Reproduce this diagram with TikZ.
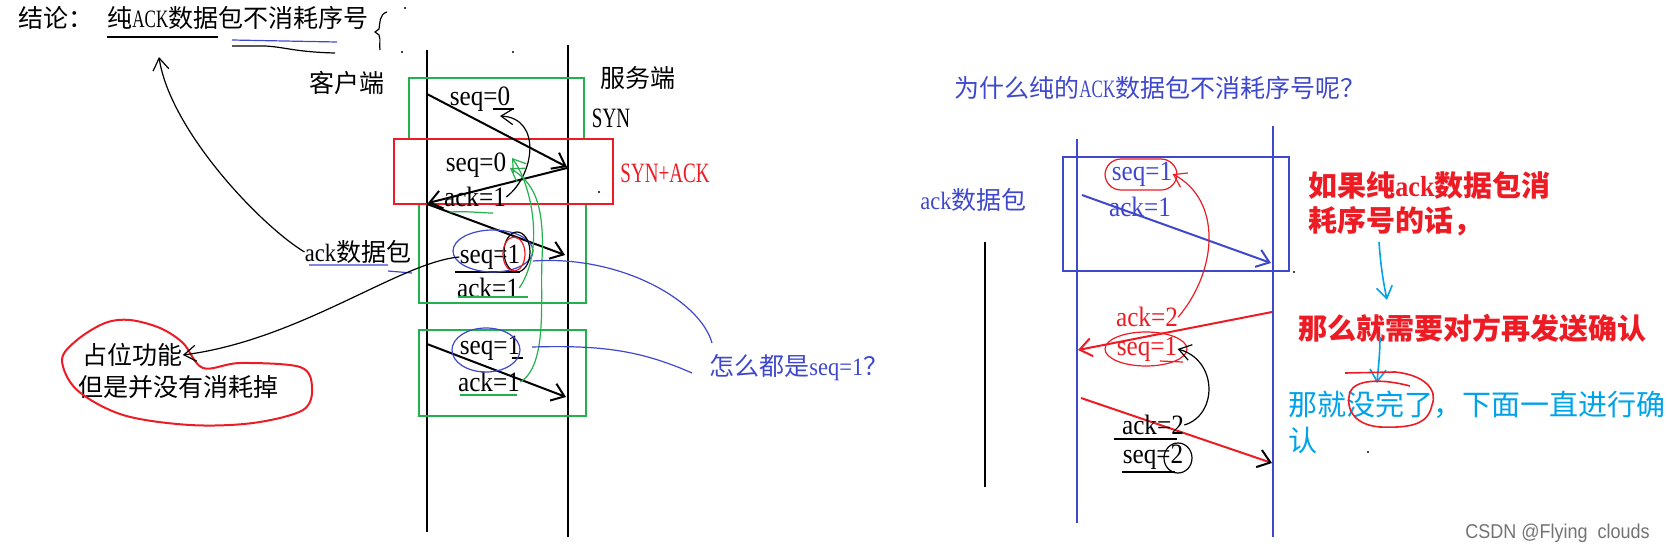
\documentclass[tikz,border=0pt]{standalone}
\usepackage{fontspec}
\newfontfamily\cjk{Noto Sans CJK SC}
\newfontfamily\lat[FakeStretch=0.9]{Liberation Serif}
\newfontfamily\latcap[FakeStretch=0.68]{Liberation Serif}
\newfontfamily\wmark[FakeStretch=0.9]{Liberation Sans}
\usepackage{tikz}
\usetikzlibrary{
  arrows.meta,
  calc,
  positioning
}
\definecolor{paintBlue}{HTML}{3F48CC}
\definecolor{paintRed}{HTML}{ED1C24}
\definecolor{paintGreen}{HTML}{22B14C}
\definecolor{paintCyan}{HTML}{00A2E8}
\tikzset{
  lifeLine/.style={line width=1pt},
  boxLine/.style={line width=1pt},
  msgArrow/.style={line width=1pt, -{Straight Barb[length=6pt, width=9pt]}},
  handArrow/.style={line width=0.6pt, -{Straight Barb[length=6pt, width=8pt]}},
  handLine/.style={line width=0.6pt},
  inkDot/.style={fill=black, inner sep=0pt, minimum size=1.2pt, circle}
}
\begin{document}
\begin{tikzpicture}[x=0.5pt, y=-0.5pt,
  cn/.style={font=\fontsize{12.5}{15}\selectfont\cjk, inner sep=0pt},
  cnBig/.style={font=\fontsize{14.5}{17}\selectfont\cjk, inner sep=0pt},
  cnBold/.style={font=\fontsize{14.5}{17}\selectfont\cjk\bfseries, inner sep=0pt},
  pkt/.style={font=\fontsize{14}{16}\selectfont\lat, inner sep=0pt},
  capLabel/.style={font=\fontsize{14}{16}\selectfont\latcap, inner sep=0pt}]
  \useasboundingbox (0,0) rectangle (1667,552);

  % heading
  \node[cn, anchor=west] (concl) at (18,18) {结论：};
  \node[cn, anchor=west] (conclText) at (107,18) {纯{\latcap ACK}数据包不消耗序号};
  \draw[handLine] (107,37) -- (218,37);
  \draw[handLine, paintBlue] (232,40) -- (337,42);
  \draw[handLine] (232,46) -- (265,46) .. controls (285,47) and (295,52) .. (335,53);
  \draw[handLine] (387,12) .. controls (379,14) and (380,24) .. (379,29)
    -- (375,32) -- (379,35) .. controls (381,40) and (379,45) .. (380,50);

  % lifelines
  \coordinate (cTop) at (427,50);  \coordinate (cBot) at (427,532);
  \coordinate (sTop) at (568,45);  \coordinate (sBot) at (568,537);
  \draw[lifeLine] (cTop) -- (cBot);
  \draw[lifeLine] (sTop) -- (sBot);
  \node[cn] (client) at (347,83) {客户端};
  \node[cn] (server) at (638,78) {服务端};

  % handshake boxes
  \draw[paintGreen, boxLine] (409,78) rectangle (584,139);
  \draw[paintGreen, boxLine] (419,204) rectangle (586,303);
  \draw[paintGreen, boxLine] (419,330) rectangle (586,416);
  \draw[paintRed, boxLine] (394,139) rectangle (613,204);
  \node[capLabel] (syn) at (611,118) {SYN};
  \node[capLabel, text=paintRed] (synAck) at (665,173) {SYN+ACK};

  % segments
  \coordinate (c1) at (427,94);   \coordinate (s1) at (567,167);
  \coordinate (s2) at (567,168);  \coordinate (c2) at (428,203);
  \coordinate (c3) at (427,204);  \coordinate (s3) at (565,255);
  \coordinate (c4) at (427,344);  \coordinate (s4) at (566,397);
  \draw[msgArrow] (c1) -- (s1);
  \draw[msgArrow] (s2) -- (c2);
  \draw[msgArrow] (c3) -- (s3);
  \draw[msgArrow] (c4) -- (s4);

  \node[pkt] (seqA) at (480,99) {seq=0};
  \node[pkt] (seqB) at (476,165) {seq=0};
  \node[pkt] (ackB) at (475,197) {ack=1};
  \node[pkt] (seqC) at (490,257) {seq=1};
  \node[pkt] (ackC) at (488,288) {ack=1};
  \node[pkt] (seqD) at (490,348) {seq=1};
  \node[pkt] (ackD) at (489,382) {ack=1};

  % marks on the labels
  \draw[handLine] (493,109) -- (514,109);
  \draw[handLine] (455,272) -- (520,272);
  \draw[handLine] (512,358) -- (523,358);
  \draw[handLine, paintGreen] (458,297) -- (528,297);
  \draw[handLine, paintGreen] (460,395) -- (517,395);
  \draw[handLine, paintGreen] (450,212) .. controls (470,211) and (480,213) .. (493,213);
  \draw[handLine, paintBlue] (493,251) ellipse [x radius=40, y radius=21];
  \draw[handLine, paintBlue] (486,350) ellipse [x radius=34, y radius=22];
  \draw[handLine] (517,252) ellipse [x radius=13, y radius=20];
  \draw[handLine, paintRed] (514,254) ellipse [x radius=11, y radius=17];

  % hand-drawn links
  \coordinate (backTip) at (500,116);
  \draw[handArrow] (ackB.east) .. controls (535,175) and (542,118) .. (backTip);
  \coordinate (gTipA) at (512,158);  \coordinate (gTipB) at (510,168);
  \draw[handArrow, paintGreen] (ackC.east) .. controls (545,250) and (532,185) .. (gTipA);
  \draw[handArrow, paintGreen] (ackD.east) .. controls (548,365) and (540,300) .. (542,260)
    .. controls (545,200) and (532,182) .. (gTipB);

  \node[cn] (ackPktL) at (358,252) {{\lat ack}数据包};
  \draw[handLine, paintBlue] (309,265) -- (388,265) (388,271) -- (412,273);
  \coordinate (conclTip) at (159,57);
  \draw[handArrow] (ackPktL.west) .. controls (260,225) and (170,130) .. (conclTip);

  \node[cn, anchor=west] (idleA) at (82,355) {占位功能};
  \node[cn, anchor=west] (idleB) at (78,387) {但是并没有消耗掉};
  \draw[paintRed, line width=1pt] plot[smooth cycle, tension=0.55] coordinates {
    (105,323) (130,320) (160,328) (183,343) (203,368) (240,363) (300,367)
    (312,387) (303,410) (253,423) (190,425) (123,415) (77,390) (62,360) (77,340)};
  \draw[handArrow] (seqC.west) .. controls (400,262) and (300,340) .. (idleA.east);

  \node[cn, anchor=west, text=paintBlue] (whySame) at (709,368) {怎么都是{\lat seq=1}？};
  \draw[handLine, paintBlue] (533,261) .. controls (620,255) and (700,300) .. (712,343);
  \draw[handLine, paintBlue] (532,347) .. controls (600,345) and (640,350) .. (692,373);

  \node[inkDot] (dotA) at (599,192) {};
  \node[inkDot] (dotB) at (405,8) {};
  \node[inkDot] (dotC) at (402,52) {};
  \node[inkDot] (dotD) at (513,52) {};

  % right: what if a pure ACK consumed a number
  \node[cn, anchor=west, text=paintBlue] (whyTitle) at (954,88)
    {为什么纯的{\latcap ACK}数据包不消耗序号呢？};
  \coordinate (lTop) at (1077,139);  \coordinate (lBot) at (1077,523);
  \coordinate (rTop) at (1273,126);  \coordinate (rBot) at (1273,537);
  \coordinate (bTop) at (985,242);   \coordinate (bBot) at (985,487);
  \draw[lifeLine, paintBlue] (lTop) -- (lBot);
  \draw[lifeLine, paintBlue] (rTop) -- (rBot);
  \draw[handLine] (bTop) -- (bBot);
  \draw[paintBlue, boxLine] (1063,157) rectangle (1289,271);
  \node[inkDot] (dotE) at (1294,272) {};
  \node[cn, anchor=west, text=paintBlue] (ackPktR) at (920,200) {{\lat ack}数据包};

  \node[pkt, text=paintBlue] (seqE) at (1142,174) {seq=1};
  \node[pkt, text=paintBlue] (ackE) at (1140,207) {ack=1};
  \draw[handLine, paintRed, rounded corners=8pt] (1105,159) rectangle (1177,190);
  \coordinate (l1) at (1082,195);  \coordinate (r1) at (1271,263);
  \draw[msgArrow, paintBlue] (l1) -- (r1);

  \coordinate (r2) at (1272,312);  \coordinate (l2) at (1078,350);
  \draw[msgArrow, paintRed] (r2) -- (l2);
  \node[pkt, text=paintRed] (ackF) at (1147,317) {ack=2};
  \node[pkt, text=paintRed] (seqF) at (1147,349) {seq=1};
  \draw[handLine, paintRed] (1146,349) ellipse [x radius=41, y radius=17];
  \draw[handLine, paintRed] (1160,361) -- (1183,362);
  \draw[handArrow, paintRed] (ackF.east) .. controls (1218,270) and (1222,200) .. (seqE.east);

  \coordinate (l3) at (1081,398);  \coordinate (r3) at (1272,463);
  \draw[paintRed, line width=1pt, -{Straight Barb[length=6pt, width=9pt, color=black]}] (l3) -- (r3);
  \node[pkt] (ackG) at (1153,425) {ack=2};
  \node[pkt] (seqG) at (1153,457) {seq=2};
  \draw[handLine] (1114,439) -- (1177,439);
  \draw[handLine] (1122,472) -- (1175,472);
  \draw[handLine] (1178,458) ellipse [x radius=14, y radius=15];
  \draw[handArrow] (ackG.east) .. controls (1218,415) and (1218,360) .. (seqF.east);

  \node[cnBold, text=paintRed, anchor=west] (ifText) at (1308,185)
    {如果纯{\lat ack}数据包消};
  \node[cnBold, text=paintRed, anchor=west] (ifTextB) at (1308,221)
    {耗序号的话，};
  \node[cnBold, text=paintRed, anchor=west] (thenText) at (1298,328)
    {那么就需要对方再发送确认};
  \node[cnBig, text=paintCyan, anchor=west] (endless) at (1288,405)
    {那就没完了，下面一直进行确};
  \node[cnBig, text=paintCyan, anchor=west] (endlessB) at (1288,440) {认};

  \coordinate (cyA) at (1379,242);  \coordinate (cyB) at (1387,300);
  \coordinate (cyC) at (1380,337);  \coordinate (cyD) at (1377,383);
  \draw[handArrow, paintCyan, line width=0.8pt] (cyA) .. controls (1381,270) and (1384,285) .. (cyB);
  \draw[handArrow, paintCyan, line width=0.8pt] (cyC) .. controls (1380,355) and (1378,370) .. (cyD);
  \draw[paintRed, line width=0.8pt] (1345,373) -- (1395,372)
    .. controls (1425,375) and (1438,390) .. (1432,405)
    .. controls (1428,425) and (1410,428) .. (1380,427)
    .. controls (1355,425) and (1345,410) .. (1350,392)
    .. controls (1355,380) and (1380,378) .. (1410,386);
  \node[inkDot] (dotF) at (1368,452) {};

  \node[anchor=west, inner sep=0pt, text=black!55,
    font=\fontsize{10}{12}\selectfont\wmark] (mark) at (1465,533) {CSDN @Flying\ \ clouds};
\end{tikzpicture}
\end{document}
